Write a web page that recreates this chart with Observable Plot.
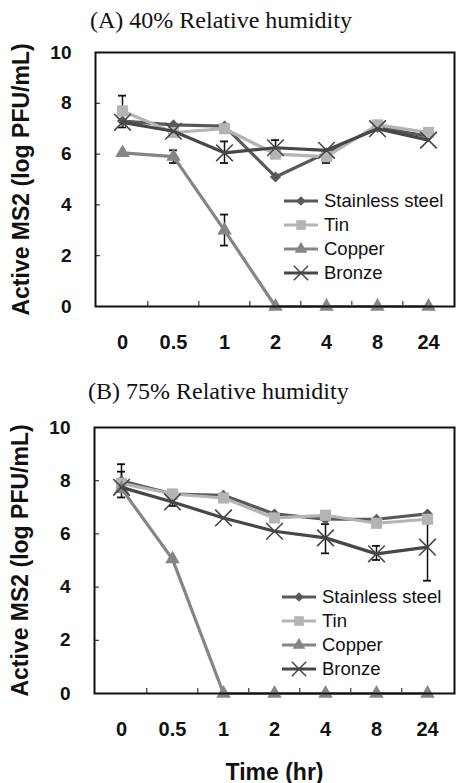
<!DOCTYPE html>
<html>
<head>
<meta charset="utf-8">
<script src="https://cdn.jsdelivr.net/npm/d3@7"></script>
<script src="https://cdn.jsdelivr.net/npm/@observablehq/plot@0.6"></script>
<style>
  html, body { margin: 0; padding: 0; background: #fff; }
  #root { position: relative; width: 457px; height: 783px; overflow: hidden; background: #fff; }
  .title { position: absolute; font-family: "Liberation Serif", "Times New Roman", serif; font-size: 24px; color: #111; white-space: nowrap; line-height: 26px; }
  .chart { position: absolute; left: 0; }
  .legend { position: absolute; font-family: "Liberation Sans", Arial, sans-serif; font-size: 18.5px; color: #111; }
  .legend .row { display: flex; align-items: center; height: 24px; white-space: nowrap; }
  .legend svg { margin-right: 6px; }
  svg g[aria-label="y-axis label"] text { font-size: 23px; font-weight: bold; }
  svg g[aria-label="x-axis label"] text { font-size: 23px; font-weight: bold; }
</style>
</head>
<body>
<div id="root"></div>
<script>
// ---------- data ----------
const times = ["0", "0.5", "1", "2", "4", "8", "24"];
const series = ["Stainless steel", "Tin", "Copper", "Bronze"];
const yTicks = [0, 2, 4, 6, 8, 10];

// Panel A: 40% relative humidity
const steelA  = [7.3, 7.15, 7.1, 5.1, 6.05, 7.05, 6.7];
const tinA    = [7.7, 6.85, 7.0, 6.0, 5.9, 7.15, 6.85];
const copperA = [6.05, 5.9, 3.0, 0, 0, 0, 0];
const bronzeA = [7.25, 6.9, 6.05, 6.25, 6.15, 7.0, 6.55];
const errTimeA = ["0", "0.5", "1", "1", "2", "4"];
const errLowA  = [7.05, 5.65, 5.65, 2.4, 6.0, 5.65];
const errHighA = [8.3, 6.15, 6.5, 3.62, 6.55, 6.15];

// Panel B: 75% relative humidity
const steelB  = [8.0, 7.5, 7.45, 6.75, 6.55, 6.55, 6.75];
const tinB    = [7.9, 7.5, 7.35, 6.6, 6.7, 6.4, 6.55];
const copperB = [7.7, 5.05, 0, 0, 0, 0, 0];
const bronzeB = [7.75, 7.2, 6.6, 6.1, 5.85, 5.25, 5.5];
const errTimeB = ["0", "0", "0.5", "4", "8", "24"];
const errLowB  = [7.37, 7.6, 7.05, 5.27, 5.02, 4.24];
const errHighB = [8.62, 8.34, 7.35, 6.37, 5.55, 6.7];

// ---------- styles ----------
const colors  = ["#595959", "#b4b4b4", "#858585", "#474747"];
const symbols = ["diamond2", "square", "triangle", "times"];
const radii   = [5, 6.3, 5.4, 7.6];
const d3sym   = [d3.symbolDiamond2, d3.symbolSquare, d3.symbolTriangle, d3.symbolTimes];

const W = 457;
const FONT = "'Liberation Sans', Arial, Helvetica, sans-serif";

function panel({values, errT, errL, errH, height, marginBottom, marginLeft, xLabel}) {
  const marginRight = 3;
  const step = (W - marginLeft - marginRight) / times.length;
  const rows = series.flatMap((s, k) => times.map((t, i) => ({series: s, time: t, value: values[k][i]})));
  const errs = errT.map((t, i) => ({time: t, lo: errL[i], hi: errH[i]}));
  const seriesMarks = series.flatMap((s, k) => {
    const d = rows.filter(r => r.series === s);
    const isX = symbols[k] === "times";
    return [
      Plot.line(d, {x: "time", y: "value", stroke: colors[k], strokeWidth: 3.2}),
      Plot.dot(d, {x: "time", y: "value", symbol: symbols[k], r: radii[k],
        fill: isX ? "none" : colors[k], stroke: isX ? colors[k] : "none", strokeWidth: isX ? 1.6 : 0})
    ];
  });
  return Plot.plot({
    width: W, height, marginTop: 12, marginBottom, marginLeft, marginRight,
    style: {fontFamily: FONT, background: "white", color: "#111", overflow: "visible"},
    x: {type: "point", domain: times, padding: 0.5},
    y: {domain: [0, 10]},
    marks: [
      Plot.axisY({ticks: yTicks, tickSize: 0, tickPadding: 24, fontSize: 19, fontWeight: "bold",
        label: "Active MS2 (log PFU/mL)", labelAnchor: "center", labelOffset: 83, labelArrow: "none"}),
      Plot.axisY({ticks: yTicks.slice(1, -1), tickSize: 5, dx: 5, tickFormat: () => "", label: null}),
      Plot.axisX({ticks: times, tickSize: 0, tickPadding: 28, fontSize: 20, fontWeight: "bold",
        label: xLabel, labelAnchor: "center", labelOffset: 86, labelArrow: "none"}),
      Plot.axisX({ticks: times.slice(1), tickSize: 5, dy: -5, dx: -step / 2, tickFormat: () => "", label: null}),
      Plot.ruleX(errs, {x: "time", y1: "lo", y2: "hi", stroke: "#111", strokeWidth: 1.5}),
      Plot.ruleY(errs, {x1: "time", x2: "time", y: "lo", insetLeft: -4, insetRight: -4, stroke: "#111", strokeWidth: 1.8}),
      Plot.ruleY(errs, {x1: "time", x2: "time", y: "hi", insetLeft: -4, insetRight: -4, stroke: "#111", strokeWidth: 1.8}),
      ...seriesMarks,
      Plot.frame({stroke: "#111", strokeWidth: 2})
    ]
  });
}

function legend(left, top) {
  const div = document.createElement("div");
  div.className = "legend";
  div.style.left = left + "px";
  div.style.top = top + "px";
  series.forEach((s, k) => {
    const row = document.createElement("div");
    row.className = "row";
    const svg = d3.create("svg").attr("width", 34).attr("height", 16);
    svg.append("line").attr("x1", 0).attr("x2", 34).attr("y1", 8).attr("y2", 8)
      .attr("stroke", colors[k]).attr("stroke-width", 3.2);
    const isX = symbols[k] === "times";
    const size = Math.PI * radii[k] * radii[k] * 0.75;
    svg.append("path").attr("transform", "translate(17,8)")
      .attr("d", d3.symbol(d3sym[k], size)())
      .attr("fill", isX ? "none" : colors[k])
      .attr("stroke", isX ? colors[k] : "none")
      .attr("stroke-width", 1.5);
    row.appendChild(svg.node());
    const span = document.createElement("span");
    span.textContent = s;
    row.appendChild(span);
    div.appendChild(row);
  });
  return div;
}

const root = document.getElementById("root");

function addTitle(text, left, top) {
  const t = document.createElement("div");
  t.className = "title";
  t.textContent = text;
  t.style.left = left + "px";
  t.style.top = top + "px";
  root.appendChild(t);
}

// Panel A
addTitle("(A) 40% Relative humidity", 90, 7);
const chartA = panel({values: [steelA, tinA, copperA, bronzeA], errT: errTimeA, errL: errLowA, errH: errHighA,
  height: 320, marginBottom: 54, marginLeft: 95, xLabel: null});
chartA.classList.add("chart");
chartA.style.top = "40px";
root.appendChild(chartA);
root.appendChild(legend(284, 189));

// Panel B
addTitle("(B) 75% Relative humidity", 88, 378);
const chartB = panel({values: [steelB, tinB, copperB, bronzeB], errT: errTimeB, errL: errLowB, errH: errHighB,
  height: 368, marginBottom: 90, marginLeft: 94, xLabel: "Time (hr)"});
chartB.classList.add("chart");
chartB.style.top = "415px";
root.appendChild(chartB);
root.appendChild(legend(282, 585));
</script>
</body>
</html>
